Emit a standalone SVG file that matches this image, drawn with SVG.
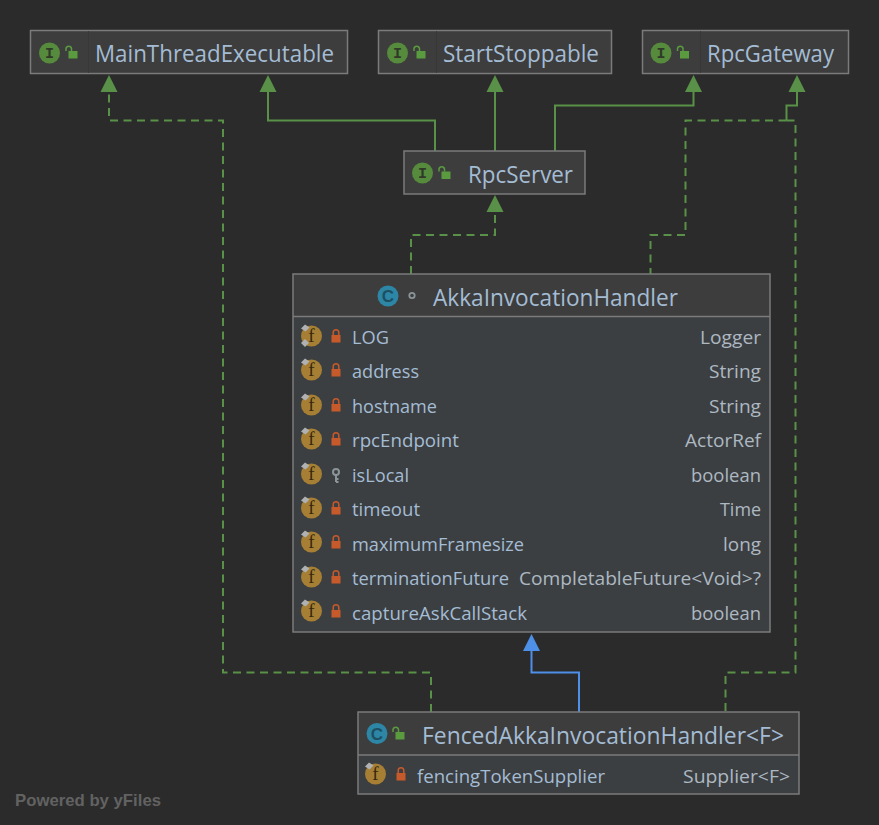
<svg xmlns="http://www.w3.org/2000/svg" xmlns:xlink="http://www.w3.org/1999/xlink" width="879" height="825" viewBox="0 0 879 825">
<style>
text{font-family:"Open Sans","Noto Sans","Liberation Sans",sans-serif}
.box{fill:#3c3f41;stroke:#7b7b7b;stroke-width:1.5}
.head{fill:#3d3d3d}
.div{stroke:#7b7b7b;stroke-width:1.5}
.sep{stroke:#383838;stroke-width:1}
.title{font-size:23px;fill:#a4bcd4}
.field{font-size:18.500px;fill:#a4bcd4}
.type{font-size:18.500px;fill:#adb8c2;text-anchor:end}
.green{fill:none;stroke:#5a9149;stroke-width:2}
.dash{stroke-dasharray:8 5.500}
.blue{fill:none;stroke:#4e90e8;stroke-width:2}
.ib{font-family:"Liberation Mono",monospace;font-size:15px;font-weight:bold;text-anchor:middle}
.ic{font-family:"Liberation Sans",sans-serif;font-size:17px;font-weight:bold;text-anchor:middle}
.pw{font-family:"Liberation Sans",sans-serif;font-size:17px;font-weight:bold;fill:#626262}
</style>
<defs>
<g id="ico-i"><circle r="10.500" fill="#568a3c"/><text class="ib" y="5" fill="#2f3a28">I</text></g>
<g id="ico-c"><circle r="10.500" fill="#2d86a5"/><text class="ic" y="6" fill="#1d4f63">C</text></g>
<g id="ico-open"><rect x="-3.500" y="-2" width="9" height="7.500" fill="#5a9b3f"/><path d="M-6-2v-2.500a2.800 2.800 0 0 1 5.500 0V-2" fill="none" stroke="#5a9b3f" stroke-width="1.500"/></g>
<g id="ico-f"><circle r="10.500" cx="1" cy="1" fill="#a67f35"/><text y="7" x="1" text-anchor="middle" font-family="'Liberation Serif',serif" font-size="19" fill="#33290f" style="font-family:'Liberation Serif',serif">f</text><path d="M-9.500-6.500l4-4 4.500 3-4 4z" fill="#afb1b3"/></g>
<g id="ico-fs"><use xlink:href="#ico-f"/><path d="M-9.500 8l4-4 4 4-4 4z" fill="#afb1b3"/></g>
<g id="ico-lock"><rect x="-4.500" y="-1" width="9" height="7.500" fill="#c75a2b"/><path d="M-2.800-1v-2.500a2.800 2.800 0 0 1 5.600 0v2.500" fill="none" stroke="#c75a2b" stroke-width="1.500"/></g>
<g id="ico-key"><circle cy="-3" r="3" fill="none" stroke="#8a9499" stroke-width="2"/><path d="M0 0v7M0 4h2.500M0 7h2.500" stroke="#8a9499" stroke-width="2" fill="none"/></g>
<path id="ah" d="M0 0L8.500 17H-8.500Z" fill="#5a9149"/>
<path id="ahb" d="M0 0L8.500 17H-8.500Z" fill="#4e90e8"/>
</defs>
<rect width="879" height="825" fill="#2b2b2b"/>
<g id="connectors">
<path class="green dash" d="M431 712V672.500H223V120.500H109V92"/>
<path class="green" d="M268 92V120.500H435V151"/>
<path class="green" d="M495 151V92"/>
<path class="green" d="M555 151V105.500H693.500V92"/>
<path class="green" d="M797 92V105.500H786.500V120.500"/>
<path class="green dash" d="M786.500 120.500H685.500V235H650.500V274"/>
<path class="green dash" d="M786.500 120.500H795.500V672.500H725.500V712"/>
<path class="green dash" d="M411 274V235H495V212"/>
<path class="blue" d="M579 712V672.500H531.500V651"/>
<use xlink:href="#ah" x="109" y="75"/>
<use xlink:href="#ah" x="268" y="75"/>
<use xlink:href="#ah" x="495" y="75"/>
<use xlink:href="#ah" x="693.500" y="75"/>
<use xlink:href="#ah" x="797" y="75"/>
<use xlink:href="#ah" x="495" y="195"/>
<use xlink:href="#ahb" x="531.500" y="634"/>
</g>
<g id="node-MainThreadExecutable">
<rect class="box head" x="30.500" y="30.500" width="317" height="43"/>
<line class="sep" x1="88.500" y1="31" x2="88.500" y2="73"/>
<use xlink:href="#ico-i" x="49.500" y="53"/><use xlink:href="#ico-open" x="72" y="53"/>
<text class="title" x="95" y="62" textLength="239" lengthAdjust="spacingAndGlyphs">MainThreadExecutable</text>
</g>
<g id="node-StartStoppable">
<rect class="box head" x="378.500" y="30.500" width="233" height="43"/>
<line class="sep" x1="436.500" y1="31" x2="436.500" y2="73"/>
<use xlink:href="#ico-i" x="397.500" y="53"/><use xlink:href="#ico-open" x="420" y="53"/>
<text class="title" x="443" y="62" textLength="156" lengthAdjust="spacingAndGlyphs">StartStoppable</text>
</g>
<g id="node-RpcGateway">
<rect class="box head" x="642.500" y="30.500" width="206" height="43"/>
<line class="sep" x1="700.500" y1="31" x2="700.500" y2="73"/>
<use xlink:href="#ico-i" x="661" y="53"/><use xlink:href="#ico-open" x="683.500" y="53"/>
<text class="title" x="707" y="62" textLength="127" lengthAdjust="spacingAndGlyphs">RpcGateway</text>
</g>
<g id="node-RpcServer">
<rect class="box head" x="404" y="151" width="181" height="43"/>
<use xlink:href="#ico-i" x="422.500" y="173"/><use xlink:href="#ico-open" x="445" y="173.500"/>
<text class="title" x="468" y="183" textLength="105" lengthAdjust="spacingAndGlyphs">RpcServer</text>
</g>
<g id="node-AkkaInvocationHandler">
<rect class="box" x="293" y="274" width="477" height="358"/>
<rect class="head" x="294" y="275" width="475" height="41"/>
<line class="div" x1="293" y1="316.500" x2="770" y2="316.500"/>
<use xlink:href="#ico-c" x="388" y="296"/>
<circle cx="412" cy="295.500" r="2.700" fill="none" stroke="#8a9499" stroke-width="1.800"/>
<text class="title" x="433" y="306" textLength="245" lengthAdjust="spacingAndGlyphs">AkkaInvocationHandler</text>
<use xlink:href="#ico-fs" x="310.500" y="335"/><use xlink:href="#ico-lock" x="336" y="336"/>
<text class="field" x="352" y="344" textLength="37" lengthAdjust="spacingAndGlyphs">LOG</text><text class="type" x="761" y="344" textLength="61" lengthAdjust="spacingAndGlyphs">Logger</text>
<use xlink:href="#ico-f" x="310.500" y="369"/><use xlink:href="#ico-lock" x="336" y="370"/>
<text class="field" x="352" y="378" textLength="67" lengthAdjust="spacingAndGlyphs">address</text><text class="type" x="761" y="378" textLength="52" lengthAdjust="spacingAndGlyphs">String</text>
<use xlink:href="#ico-f" x="310.500" y="404"/><use xlink:href="#ico-lock" x="336" y="405"/>
<text class="field" x="352" y="413" textLength="85" lengthAdjust="spacingAndGlyphs">hostname</text><text class="type" x="761" y="413" textLength="52" lengthAdjust="spacingAndGlyphs">String</text>
<use xlink:href="#ico-f" x="310.500" y="438"/><use xlink:href="#ico-lock" x="336" y="439"/>
<text class="field" x="352" y="447" textLength="107" lengthAdjust="spacingAndGlyphs">rpcEndpoint</text><text class="type" x="761" y="447" textLength="76" lengthAdjust="spacingAndGlyphs">ActorRef</text>
<use xlink:href="#ico-f" x="310.500" y="473"/><use xlink:href="#ico-key" x="336" y="475"/>
<text class="field" x="352" y="482" textLength="57" lengthAdjust="spacingAndGlyphs">isLocal</text><text class="type" x="761" y="482" textLength="70" lengthAdjust="spacingAndGlyphs">boolean</text>
<use xlink:href="#ico-f" x="310.500" y="507"/><use xlink:href="#ico-lock" x="336" y="508"/>
<text class="field" x="352" y="516" textLength="68" lengthAdjust="spacingAndGlyphs">timeout</text><text class="type" x="761" y="516" textLength="41" lengthAdjust="spacingAndGlyphs">Time</text>
<use xlink:href="#ico-f" x="310.500" y="541"/><use xlink:href="#ico-lock" x="336" y="542"/>
<text class="field" x="352" y="551" textLength="172" lengthAdjust="spacingAndGlyphs">maximumFramesize</text><text class="type" x="761" y="551" textLength="38" lengthAdjust="spacingAndGlyphs">long</text>
<use xlink:href="#ico-f" x="310.500" y="576"/><use xlink:href="#ico-lock" x="336" y="577"/>
<text class="field" x="352" y="585" textLength="157" lengthAdjust="spacingAndGlyphs">terminationFuture</text><text class="type" x="761" y="585" textLength="242" lengthAdjust="spacingAndGlyphs">CompletableFuture&lt;Void&gt;?</text>
<use xlink:href="#ico-f" x="310.500" y="610"/><use xlink:href="#ico-lock" x="336" y="611"/>
<text class="field" x="352" y="620" textLength="175" lengthAdjust="spacingAndGlyphs">captureAskCallStack</text><text class="type" x="761" y="620" textLength="70" lengthAdjust="spacingAndGlyphs">boolean</text>
</g>
<g id="node-FencedAkkaInvocationHandler">
<rect class="box" x="358" y="712" width="441" height="82"/>
<rect class="head" x="359" y="713" width="439" height="41"/>
<line class="div" x1="358" y1="755" x2="799" y2="755"/>
<use xlink:href="#ico-c" x="377" y="733.500"/><use xlink:href="#ico-open" x="399" y="734"/>
<text class="title" x="422" y="744" textLength="362" lengthAdjust="spacingAndGlyphs">FencedAkkaInvocationHandler&lt;F&gt;</text>
<use xlink:href="#ico-f" x="374.500" y="773"/><use xlink:href="#ico-lock" x="401" y="774"/>
<text class="field" x="417" y="783" textLength="188" lengthAdjust="spacingAndGlyphs">fencingTokenSupplier</text><text class="type" x="790" y="783" textLength="107" lengthAdjust="spacingAndGlyphs">Supplier&lt;F&gt;</text>
</g>
<text class="pw" x="15" y="806" textLength="146" lengthAdjust="spacingAndGlyphs">Powered by yFiles</text>
</svg>
